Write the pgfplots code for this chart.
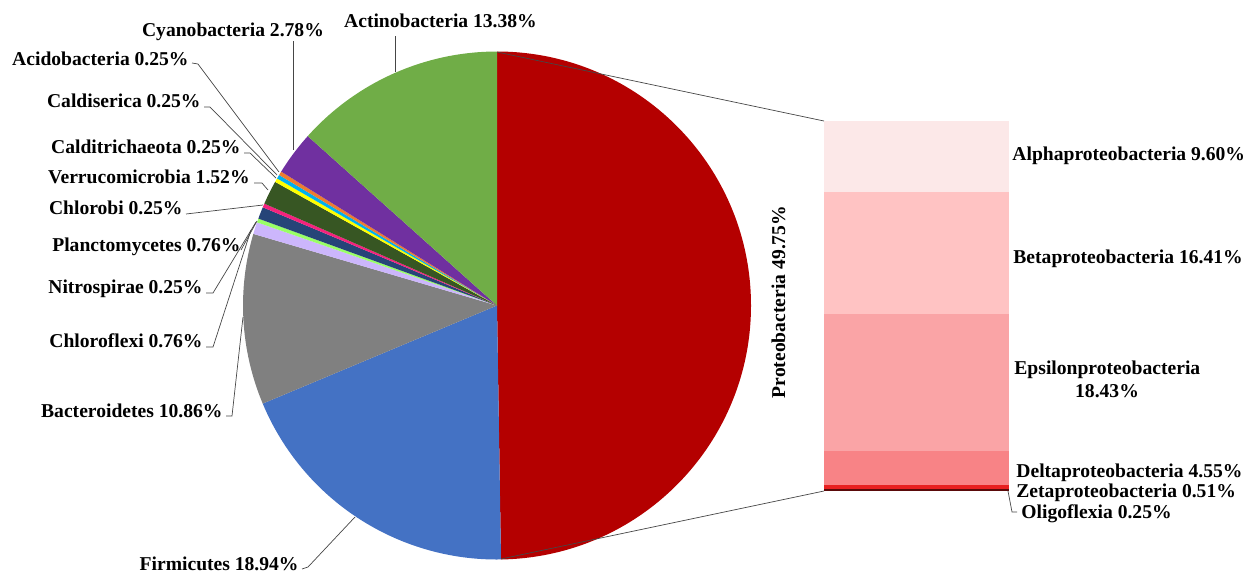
\documentclass[border=0pt]{standalone}
\usepackage{pgfplots}
\usepackage{pgfplotstable}
\pgfplotsset{compat=1.18}
\usepackage{fontspec}
\setmainfont{Liberation Serif}

\definecolor{cProteo}{RGB}{180,0,0}
\definecolor{cFirm}{RGB}{68,114,196}
\definecolor{cBact}{RGB}{128,128,128}
\definecolor{cChlorof}{RGB}{204,182,252}
\definecolor{cNitro}{RGB}{153,255,102}
\definecolor{cPlanc}{RGB}{38,68,120}
\definecolor{cChlorob}{RGB}{245,35,125}
\definecolor{cVerru}{RGB}{55,86,35}
\definecolor{cCaldit}{RGB}{255,255,0}
\definecolor{cCaldis}{RGB}{0,176,240}
\definecolor{cAcido}{RGB}{237,125,49}
\definecolor{cCyano}{RGB}{112,48,160}
\definecolor{cActino}{RGB}{112,173,71}

\definecolor{cAlpha}{RGB}{252,232,232}
\definecolor{cBeta}{RGB}{255,195,195}
\definecolor{cEps}{RGB}{250,164,166}
\definecolor{cDelta}{RGB}{248,131,134}
\definecolor{cZeta}{RGB}{232,32,32}
\definecolor{cOligo}{RGB}{90,10,10}
\definecolor{leader}{RGB}{70,70,70}

% phylum shares, clockwise from 12 o'clock
\pgfplotstableread[col sep=comma]{
name,value,color
Proteobacteria,49.75,cProteo
Firmicutes,18.94,cFirm
Bacteroidetes,10.86,cBact
Chloroflexi,0.76,cChlorof
Nitrospirae,0.25,cNitro
Planctomycetes,0.76,cPlanc
Chlorobi,0.25,cChlorob
Verrucomicrobia,1.52,cVerru
Calditrichaeota,0.25,cCaldit
Caldiserica,0.25,cCaldis
Acidobacteria,0.25,cAcido
Cyanobacteria,2.78,cCyano
Actinobacteria,13.38,cActino
}\pietable

\tikzset{lab/.style={inner sep=0pt, font=\fontsize{9.8}{11}\selectfont\bfseries},
         ld/.style={draw=leader, line width=0.35pt}}

\begin{document}
\begin{tikzpicture}
\begin{axis}[
  name=main,
  width=624.5pt, height=287.5pt, scale only axis,
  xmin=0, xmax=1249, ymin=0, ymax=575, y dir=reverse,
  hide axis, clip=false]
  \coordinate (TL) at (axis cs:0,0);
  \coordinate (BR) at (axis cs:1249,575);
  \coordinate (barSW) at (axis cs:824,491);
  % pie from table
  \pgfplotstablegetrowsof{\pietable}
  \pgfmathtruncatemacro{\N}{\pgfplotsretval-1}
  \def\ang{90}
  \pgfplotsforeachungrouped \i in {0,...,\N}{%
    \pgfplotstablegetelem{\i}{value}\of\pietable \let\v\pgfplotsretval
    \pgfplotstablegetelem{\i}{color}\of\pietable \let\c\pgfplotsretval
    \pgfmathsetmacro{\endang}{\ang-3.6*\v}%
    \edef\temp{\noexpand\fill[\c] (axis cs:497,305.5) -- ++(\ang:127pt) arc[start angle=\ang, end angle=\endang, radius=127pt] -- cycle;}%
    \temp
    \let\ang\endang
  }
  % connectors to bar
  \draw[ld] (axis cs:497,52) -- (axis cs:824,121);
  \draw[ld] (axis cs:501,559) -- (axis cs:824,491);
  % leaders
  \draw[ld] (axis cs:395,36) -- (axis cs:395,72);
  \draw[ld] (axis cs:293,41) -- (axis cs:293,150);
  \draw[ld] (axis cs:192,63) -- (axis cs:198,64) -- (axis cs:279,172);
  \draw[ld] (axis cs:204,107) -- (axis cs:210,107) -- (axis cs:277,175);
  \draw[ld] (axis cs:244,153) -- (axis cs:250,153) -- (axis cs:276,178);
  \draw[ld] (axis cs:254,183) -- (axis cs:262,183) -- (axis cs:268,190);
  \draw[ld] (axis cs:186,214) -- (axis cs:263,205);
  \draw[ld] (axis cs:241,250) -- (axis cs:257,221);
  \draw[ld] (axis cs:206,293) -- (axis cs:213,293) -- (axis cs:256,222);
  \draw[ld] (axis cs:206,347) -- (axis cs:213,347) -- (axis cs:251,230);
  \draw[ld] (axis cs:226,416) -- (axis cs:232,416) -- (axis cs:243,317);
  \draw[ld] (axis cs:302,569) -- (axis cs:308,567) -- (axis cs:355,517);
  \draw[ld] (axis cs:1008,491) -- (axis cs:1012,512) -- (axis cs:1017,512);
  % pie labels
  \node[lab, anchor=base] at (axis cs:440.5,27) {Actinobacteria 13.38\%};
  \node[lab, anchor=base] at (axis cs:233,36) {Cyanobacteria 2.78\%};
  \node[lab, anchor=base east] at (axis cs:189,65) {Acidobacteria 0.25\%};
  \node[lab, anchor=base east] at (axis cs:201,107) {Caldiserica 0.25\%};
  \node[lab, anchor=base east] at (axis cs:241,153) {Calditrichaeota 0.25\%};
  \node[lab, anchor=base east] at (axis cs:250,183) {Verrucomicrobia 1.52\%};
  \node[lab, anchor=base east] at (axis cs:183,214) {Chlorobi 0.25\%};
  \node[lab, anchor=base east] at (axis cs:241,251) {Planctomycetes 0.76\%};
  \node[lab, anchor=base east] at (axis cs:203,293) {Nitrospirae 0.25\%};
  \node[lab, anchor=base east] at (axis cs:203,347) {Chloroflexi 0.76\%};
  \node[lab, anchor=base east] at (axis cs:223,417) {Bacteroidetes 10.86\%};
  \node[lab, anchor=base east] at (axis cs:299,570) {Firmicutes 18.94\%};
  \node[lab, anchor=base, rotate=90] at (axis cs:785,302) {Proteobacteria 49.75\%};
  % bar labels
  \node[lab, anchor=base west] at (axis cs:1012,160) {Alphaproteobacteria 9.60\%};
  \node[lab, anchor=base west] at (axis cs:1013,263) {Betaproteobacteria 16.41\%};
  \node[lab, anchor=base west] at (axis cs:1014,374) {Epsilonproteobacteria};
  \node[lab, anchor=base] at (axis cs:1107,397) {18.43\%};
  \node[lab, anchor=base west] at (axis cs:1016,477) {Deltaproteobacteria 4.55\%};
  \node[lab, anchor=base west] at (axis cs:1016,497) {Zetaproteobacteria 0.51\%};
  \node[lab, anchor=base west] at (axis cs:1021,518) {Oligoflexia 0.25\%};
\end{axis}

\begin{axis}[
  at={(barSW)}, anchor=south west,
  width=92.5pt, height=185.25pt, scale only axis,
  hide axis, clip=false,
  xmin=-0.5, xmax=0.5, ymin=0, ymax=49.75,
  ybar stacked, bar width=92.5pt]
  \addplot[fill=cOligo, draw=none] coordinates {(0,0.25)};
  \addplot[fill=cZeta, draw=none] coordinates {(0,0.51)};
  \addplot[fill=cDelta, draw=none] coordinates {(0,4.55)};
  \addplot[fill=cEps, draw=none] coordinates {(0,18.43)};
  \addplot[fill=cBeta, draw=none] coordinates {(0,16.41)};
  \addplot[fill=cAlpha, draw=none] coordinates {(0,9.60)};
\end{axis}

\pgfresetboundingbox
\path[use as bounding box] (TL) rectangle (BR);
\end{tikzpicture}
\end{document}
